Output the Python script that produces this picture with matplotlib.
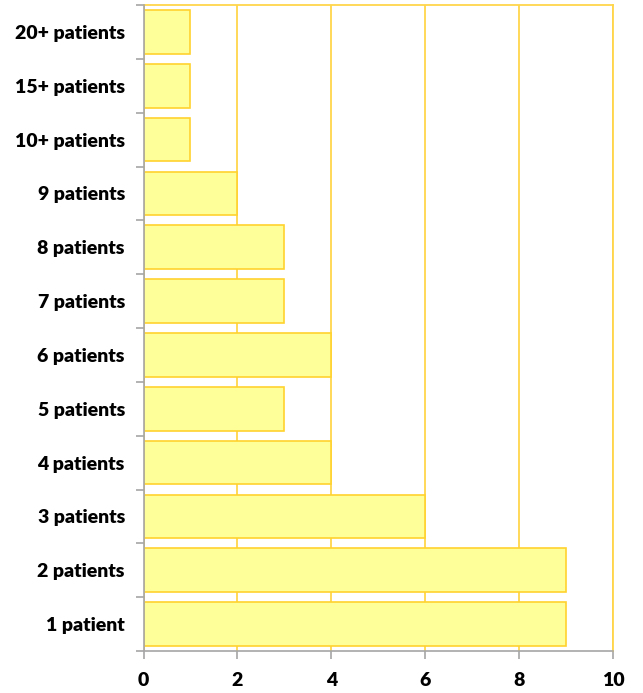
import matplotlib.pyplot as plt

categories = ['1 patient', '2 patients', '3 patients', '4 patients', '5 patients',
              '6 patients', '7 patients', '8 patients', '9 patients',
              '10+ patients', '15+ patients', '20+ patients']
counts = [9, 9, 6, 4, 3, 4, 3, 3, 2, 1, 1, 1]
xticks = [0, 2, 4, 6, 8, 10]

gold = '#FFD54A'
gray = '#A6A6A6'

plt.rcParams['font.family'] = ['Lato', 'DejaVu Sans']

fig = plt.figure(figsize=(6.43, 6.93), dpi=100)
ax = fig.add_axes([143.5 / 643, 42 / 693, 469.5 / 643, 646 / 693])

pos = list(range(len(categories)))
ax.barh(pos, counts, height=0.81, color='#FFFF99', edgecolor='#FFD22E',
        linewidth=1.2, zorder=3)

ax.set_xlim(0, 10)
ax.set_ylim(-0.5, len(categories) - 0.5)
ax.set_xticks(xticks)
ax.set_xticklabels([str(t) for t in xticks], fontsize=14, fontweight='heavy')
ax.set_yticks(pos)
ax.set_yticklabels(categories, fontsize=14, fontweight='heavy')
ax.tick_params(axis='y', length=0, pad=13.5)
ax.set_yticks([p - 0.5 for p in range(len(categories) + 1)], minor=True)
ax.tick_params(axis='y', which='minor', length=6, color=gray, width=1.2)
ax.tick_params(axis='x', length=6, color=gray, width=1.2, pad=9)

ax.xaxis.grid(True, color=gold, linewidth=1.3, zorder=0)
ax.set_axisbelow(True)

for s in ['left', 'bottom']:
    ax.spines[s].set_color(gray)
    ax.spines[s].set_linewidth(1.2)
    ax.spines[s].set_zorder(4)
for s in ['top', 'right']:
    ax.spines[s].set_color(gold)
    ax.spines[s].set_linewidth(1.3)

plt.savefig('out.png', dpi=100)
